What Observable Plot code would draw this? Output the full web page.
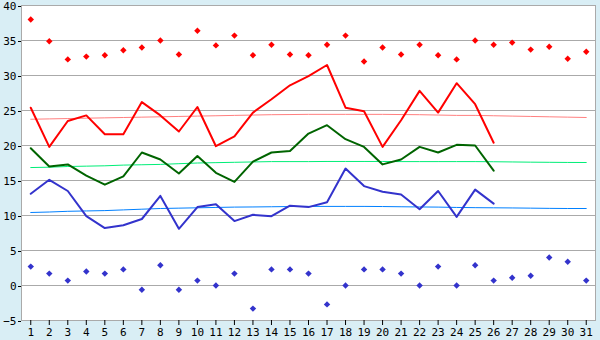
<!DOCTYPE html>
<html><head><meta charset="utf-8">
<script src="https://cdn.jsdelivr.net/npm/d3@7"></script>
<script src="https://cdn.jsdelivr.net/npm/@observablehq/plot@0.6"></script>
<style>html,body{margin:0;padding:0;background:#d9eef5;overflow:hidden;}</style>
</head><body><div id="chart"></div>
<script>
const days = [1,2,3,4,5,6,7,8,9,10,11,12,13,14,15,16,17,18,19,20,21,22,23,24,25,26,27,28,29,30,31];
const yTicks = [-5,0,5,10,15,20,25,30,35,40];

// daily maximum / mean / minimum (days 1..26)
const maxTemp  = [25.4,19.8,23.5,24.3,21.6,21.6,26.2,24.3,22.0,25.5,19.9,21.3,24.7,26.6,28.6,29.9,31.5,25.4,24.9,19.8,23.6,27.8,24.7,28.9,25.9,20.4];
const meanTemp = [19.6,17.0,17.3,15.7,14.4,15.6,19.0,18.0,16.0,18.5,16.1,14.8,17.7,19.0,19.2,21.7,22.9,20.9,19.8,17.3,18.0,19.8,19.0,20.1,20.0,16.4];
const minTemp  = [13.1,15.1,13.5,9.9,8.2,8.6,9.5,12.8,8.1,11.2,11.6,9.2,10.1,9.9,11.4,11.2,11.9,16.7,14.2,13.4,13.0,10.9,13.5,9.8,13.7,11.7];

// record maximum / record minimum (days 1..31)
const recMax = [38.0,34.9,32.3,32.7,32.9,33.6,34.0,35.0,33.0,36.4,34.3,35.7,32.9,34.4,33.0,32.9,34.4,35.7,32.0,34.0,33.0,34.4,32.9,32.3,35.0,34.4,34.7,33.7,34.1,32.4,33.4];
const recMin = [2.7,1.7,0.7,2.0,1.7,2.3,-0.6,2.9,-0.6,0.7,0.0,1.7,-3.3,2.3,2.3,1.7,-2.7,0.0,2.3,2.3,1.7,0.0,2.7,0.0,2.9,0.7,1.1,1.4,4.0,3.4,0.7];

// normals (days 1..31)
const normMax  = [23.75,23.8,23.85,23.9,23.95,24.0,24.05,24.1,24.15,24.2,24.25,24.3,24.35,24.4,24.42,24.45,24.45,24.45,24.45,24.45,24.42,24.4,24.35,24.3,24.3,24.25,24.2,24.15,24.1,24.05,24.0];
const normMean = [16.85,16.9,17.0,17.05,17.1,17.2,17.25,17.3,17.4,17.5,17.55,17.6,17.65,17.7,17.7,17.7,17.72,17.72,17.72,17.72,17.7,17.7,17.7,17.7,17.7,17.68,17.65,17.62,17.6,17.58,17.57];
const normMin  = [10.43,10.5,10.6,10.65,10.7,10.8,10.9,11.0,11.05,11.1,11.15,11.2,11.22,11.25,11.28,11.3,11.3,11.3,11.3,11.28,11.25,11.22,11.2,11.15,11.12,11.1,11.08,11.05,11.02,11.0,11.0];

const obsDays = days.slice(0, maxTemp.length);

const chart = Plot.plot({
  width: 600, height: 340,
  marginLeft: 21, marginRight: 5, marginTop: 5, marginBottom: 20,
  style: {background: "#d9eef5", fontFamily: "DejaVu Sans Mono", fontSize: "11px", color: "#000"},
  x: {domain: [0.5, 31.5], axis: null},
  y: {domain: [-5, 40], axis: null},
  marks: [
    Plot.frame({fill: "white", stroke: "none"}),
    Plot.gridY(yTicks, {stroke: "#aaaaaa", strokeOpacity: 1}),
    Plot.frame({stroke: "#aaaaaa"}),
    Plot.axisX(days, {tickSize: 5, tickPadding: 3, label: null, stroke: "#000", fill: "#000"}),
    Plot.axisY(yTicks, {tickSize: 3, tickPadding: 2, label: null, stroke: "#000", fill: "#000", fontSize: 11, dy: 1}),
    Plot.line(days, {x: d => d, y: (d, i) => normMax[i], stroke: "#ff8080", strokeWidth: 1}),
    Plot.line(days, {x: d => d, y: (d, i) => normMean[i], stroke: "#00ee77", strokeWidth: 1}),
    Plot.line(days, {x: d => d, y: (d, i) => normMin[i], stroke: "#0080ff", strokeWidth: 1}),
    Plot.line(obsDays, {x: d => d, y: (d, i) => maxTemp[i], stroke: "#ff0000", strokeWidth: 2}),
    Plot.line(obsDays, {x: d => d, y: (d, i) => meanTemp[i], stroke: "#006400", strokeWidth: 2}),
    Plot.line(obsDays, {x: d => d, y: (d, i) => minTemp[i], stroke: "#3333cc", strokeWidth: 2}),
    Plot.dot(days, {x: d => d, y: (d, i) => recMax[i], symbol: "diamond2", r: 2.9, fill: "#ff0000", stroke: "none"}),
    Plot.dot(days, {x: d => d, y: (d, i) => recMin[i], symbol: "diamond2", r: 2.9, fill: "#3333cc", stroke: "none"})
  ]
});
document.getElementById("chart").append(chart);
</script>
</body></html>
